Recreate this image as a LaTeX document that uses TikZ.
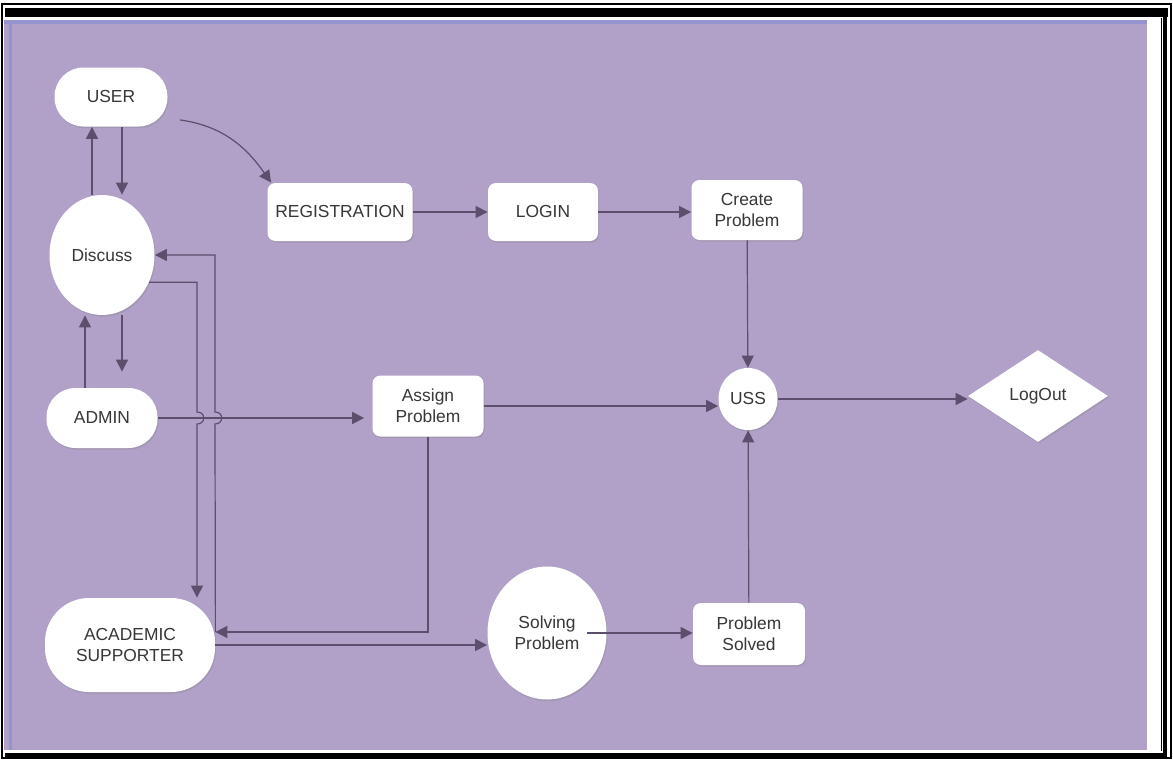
\documentclass[tikz,border=0pt]{standalone}
\usepackage{fontspec}
\setmainfont{Liberation Sans}
\usetikzlibrary{shapes.geometric,arrows.meta,shadows}
\definecolor{bgpurple}{RGB}{177,161,200}
\definecolor{bgblue}{RGB}{150,148,208}
\definecolor{edgeline}{RGB}{92,78,108}
\definecolor{txtgray}{RGB}{55,55,55}
\begin{document}
\begin{tikzpicture}[x=0.5pt,y=-0.5pt,
    box/.style={fill=white,rounded corners=4pt,align=center,text=txtgray,inner sep=0pt,
        font=\fontsize{8.7}{10.5}\selectfont,
        drop shadow={opacity=.3,shadow xshift=.5pt,shadow yshift=-.8pt}},
    pill/.style={box,rounded corners=14.5pt},
    blob/.style={box,ellipse},
    flow/.style={draw=edgeline,line width=.6pt,-{Triangle[length=6pt,width=6pt]}}]
        % page and frame
        \fill[white](0,0)rectangle(1173,760);
        \draw[line width=.6pt](2,4)rectangle(1171,758);
        \fill(5,8)rectangle(1168,17);
        \draw[line width=1.6pt](1165,17)--(1165,755)--(5,755);
        \draw[line width=.5pt](1161,18)--(1161,751);
        \fill[bgpurple](4,20)rectangle(1147,750);
        \fill[bgblue](4,20)rectangle(1147,24);
        \fill[bgblue](9,20)rectangle(12,750);
        % nodes
        \node[pill,minimum width=56.5pt,minimum height=29.5pt](user)at(111,97){USER};
        \node[box,minimum width=72.5pt,minimum height=29pt](reg)at(340,212){REGISTRATION};
        \node[box,minimum width=55pt,minimum height=29pt](login)at(543,212){LOGIN};
        \node[box,minimum width=55.5pt,minimum height=30pt](create)at(747,210){Create\\Problem};
        \node[blob,minimum width=52.5pt,minimum height=60pt](discuss)at(102,255){Discuss};
        \node[pill,minimum width=55.5pt,minimum height=30pt](admin)at(102,418){ADMIN};
        \node[box,minimum width=55.5pt,minimum height=30.5pt](assign)at(428,406){Assign\\Problem};
        \node[blob,minimum width=29.5pt,minimum height=31pt](uss)at(748,399){USS};
        \node[box,diamond,rounded corners=0pt,minimum width=70pt,minimum height=46pt](logout)at(1038,396){LogOut};
        \node[box,rounded corners=22pt,minimum width=85pt,minimum height=47pt](acad)at(130,645){ACADEMIC\\SUPPORTER};
        \node[blob,minimum width=59.5pt,minimum height=66.5pt](solve)at(547,633){Solving\\Problem};
        \node[box,minimum width=56pt,minimum height=31pt](solved)at(749,634){Problem\\Solved};
        % top row
        \draw[flow]([shift={(6pt,3.5pt)}]user.south east)to[out=-8,in=125]([xshift=2pt]reg.north west);
        \draw[flow](reg)--(login);
        \draw[flow](login.east)--(login.east -| create.west);
        \draw[flow](create)--(uss);
        \draw[flow](uss.east)--(uss.east -| logout.west);
        % left column
        \draw[flow]([xshift=-5pt]discuss.north)--([xshift=-9.5pt]user.south);
        \draw[flow]([xshift=5.5pt]user.south)--([xshift=10pt]discuss.north);
        \draw[flow]([xshift=-8.5pt]admin.north)--([xshift=-8.5pt]discuss.south);
        \draw[flow,shorten >=8pt]([xshift=10pt]discuss.south)--([xshift=10pt]admin.north);
        \draw[flow](discuss.-30)-|(197,412)..controls(206,412)and(206,424)..(197,424)--(197,0 |- acad.north);
        \draw[flow]([yshift=6.5pt]acad.east)--(215,424)..controls(224,424)and(224,412)..(215,412)|-(discuss.east);
        % middle
        \draw[flow,shorten >=4pt](admin.east)--(admin.east -| assign.west);
        \draw[flow](assign.east)--(assign.east -| uss.west);
        \draw[flow](assign.south)|-([yshift=6.5pt]acad.east);
        % bottom row
        \draw[flow](acad.east)--(acad.east -| solve.west);
        \draw[flow]([xshift=-10pt]solve.east)--(solve.east -| solved.west);
        \draw[flow](solved)--(uss);
    \end{tikzpicture}
\end{document}
